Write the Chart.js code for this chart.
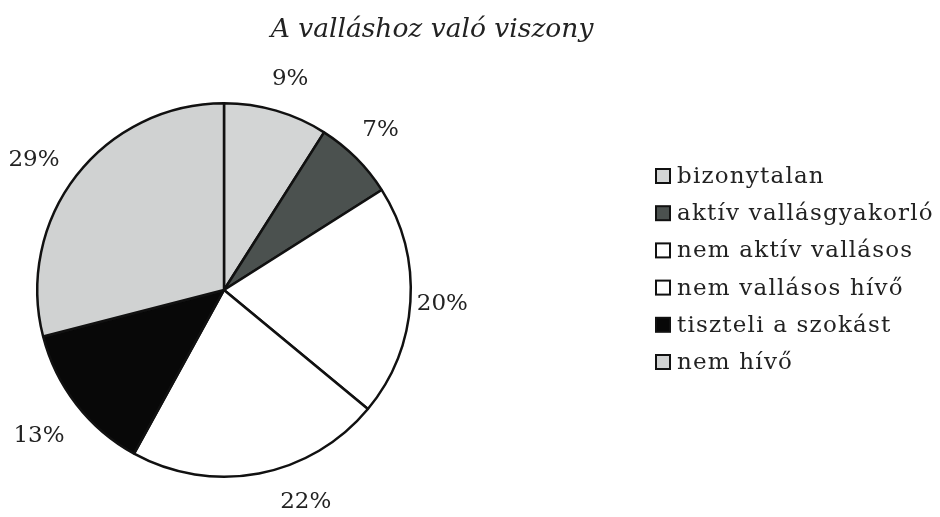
<!DOCTYPE html>
<html>
<head>
<meta charset="utf-8">
<script src="https://cdn.jsdelivr.net/npm/chart.js@4"></script>
<style>
    html, body { margin: 0; padding: 0; background: #fff; }
    #wrap { width: 940px; height: 517px; }
</style>
</head>
<body>
<div id="wrap"><canvas id="vallasChart" width="940" height="517"></canvas></div>
<script>
const title = 'A valláshoz való viszony';
const categories = ['bizonytalan', 'aktív vallásgyakorló', 'nem aktív vallásos', 'nem vallásos hívő', 'tiszteli a szokást', 'nem hívő'];
const values = [9, 7, 20, 22, 13, 29];
const colors = ['#d3d5d5', '#4b514f', '#ffffff', '#ffffff', '#080808', '#d0d2d2'];

const serif = '"DejaVu Serif", "Liberation Serif", serif';
// hand placement tweaks for the percent labels
const labelNudge = [[4, 3], [-1, -2], [-4, 0], [40, -7], [-9, 10], [-14, 7]];

// title, percent labels and legend drawn by hand
const decorations = {
    id: 'decorations',
    afterDraw(chart) {
        const ctx = chart.ctx;
        ctx.save();
        ctx.fillStyle = '#222';

        ctx.font = 'italic 26.5px ' + serif;
        ctx.textAlign = 'center';
        ctx.textBaseline = 'middle';
        ctx.fillText(title, 432, 30);

        ctx.font = '23px ' + serif;
        const meta = chart.getDatasetMeta(0);
        meta.data.forEach((arc, i) => {
            const mid = (arc.startAngle + arc.endAngle) / 2;
            const d = arc.outerRadius + 36;
            ctx.fillText(values[i] + '%',
                arc.x + Math.cos(mid) * d + labelNudge[i][0],
                arc.y + Math.sin(mid) * d + labelNudge[i][1]);
        });

        ctx.textAlign = 'left';
        ctx.font = '23px ' + serif;
        ctx.letterSpacing = '1.2px';
        categories.forEach((cat, i) => {
            const y = 176 + i * 37.2;
            ctx.fillStyle = colors[i];
            ctx.fillRect(656, y - 7, 14, 14);
            ctx.strokeStyle = '#111';
            ctx.lineWidth = 2;
            ctx.strokeRect(656, y - 7, 14, 14);
            ctx.fillStyle = '#222';
            ctx.fillText(cat, 677, y + 1);
        });
        ctx.restore();
    }
};

new Chart(document.getElementById('vallasChart'), {
    type: 'pie',
    data: {
        labels: categories,
        datasets: [{
            data: values,
            backgroundColor: colors,
            borderColor: '#111',
            borderWidth: 2.5
        }]
    },
    options: {
        responsive: false,
        animation: false,
        layout: { padding: { left: 36, right: 528, top: 102, bottom: 39 } },
        plugins: {
            legend: { display: false },
            tooltip: { enabled: false },
            title: { display: false }
        }
    },
    plugins: [decorations]
});
</script>
</body>
</html>
